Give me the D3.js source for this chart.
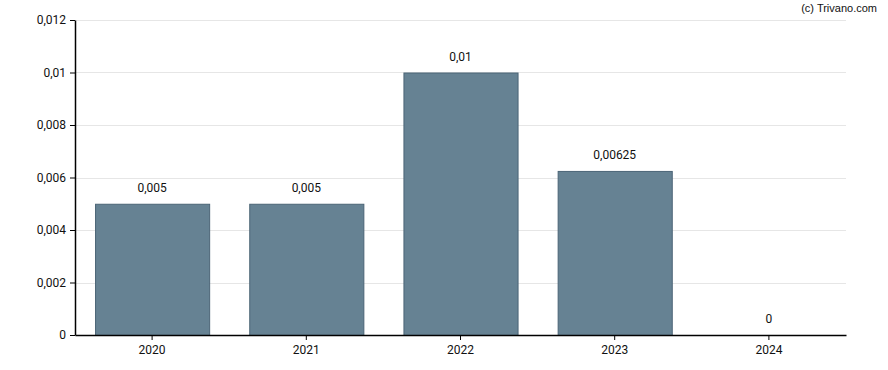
<!DOCTYPE html>
<html>
<head>
<meta charset="utf-8">
<script src="https://cdn.jsdelivr.net/npm/d3@7"></script>
<style>
  body { margin: 0; background: #fff; }
  text { font-family: Roboto, "Liberation Sans", Arial, sans-serif; }
</style>
</head>
<body>
<div id="chart-area"></div>
<script>
// data
var years = ["2020", "2021", "2022", "2023", "2024"];
var dividends = [0.005, 0.005, 0.01, 0.00625, 0];
var labels = ["0,005", "0,005", "0,01", "0,00625", "0"];
var yTicks = [0, 0.002, 0.004, 0.006, 0.008, 0.01, 0.012];

var margins = { left: 75, right: 42, top: 20, bottom: 35 };
var width = 888 - margins.left - margins.right;
var height = 370 - margins.top - margins.bottom;

var svg = d3.select("#chart-area")
    .append("svg")
    .attr("width", 888)
    .attr("height", 370);

var g = svg.append("g")
    .attr("transform", "translate(" + margins.left + ", " + margins.top + ")");

var x = d3.scaleBand()
    .domain(years)
    .range([0, width])
    .paddingInner(0.26)
    .paddingOuter(0.13);

var y = d3.scaleLinear()
    .domain([0, 0.012])
    .range([height, 0]);

var fmt = function(d){ return String(d).replace(".", ","); };

// grid lines
g.selectAll(".grid")
    .data(yTicks.filter(function(d){ return d > 0; }))
    .enter()
    .append("line")
    .attr("class", "grid")
    .attr("x1", 0)
    .attr("x2", width)
    .attr("y1", function(d){ return Math.round(y(d)) + 0.5; })
    .attr("y2", function(d){ return Math.round(y(d)) + 0.5; })
    .attr("stroke", "#e6e6e6")
    .attr("stroke-width", 1);

// bars
var data = years.map(function(yr, i){ return { year: yr, value: dividends[i], label: labels[i] }; });

g.selectAll("rect")
    .data(data)
    .enter()
    .append("rect")
    .attr("x", function(d){ return x(d.year) + 0.5; })
    .attr("y", function(d){ return y(d.value) + 0.5; })
    .attr("width", x.bandwidth())
    .attr("height", function(d){ return Math.max(0, height - y(d.value)); })
    .attr("fill", "#668293")
    .attr("stroke", "#4b6476")
    .attr("stroke-width", 1)
    .style("display", function(d){ return d.value > 0 ? null : "none"; });

// value labels
g.selectAll(".val")
    .data(data)
    .enter()
    .append("text")
    .attr("class", "val")
    .attr("x", function(d){ return x(d.year) + x.bandwidth() / 2; })
    .attr("y", function(d){ return y(d.value) - 12; })
    .attr("text-anchor", "middle")
    .attr("font-size", "12px")
    .attr("fill", "#111")
    .text(function(d){ return d.label; });

// axes
var xAxisCall = d3.axisBottom(x).tickSize(5).tickSizeOuter(0);
var yAxisCall = d3.axisLeft(y).tickValues(yTicks).tickFormat(fmt).tickSize(5).tickSizeOuter(0);

var xa = g.append("g")
    .attr("class", "x axis")
    .attr("transform", "translate(0, " + height + ")")
    .call(xAxisCall);
xa.selectAll("text").attr("font-size", "12px").attr("fill", "#111").attr("dy", "0.9em");
xa.select(".domain").attr("stroke", "#000").attr("stroke-width", 1.5);

var ya = g.append("g")
    .attr("class", "y axis")
    .call(yAxisCall);
ya.selectAll("text").attr("font-size", "12px").attr("fill", "#111").attr("x", -9);
ya.select(".domain").attr("stroke", "#000").attr("stroke-width", 1.5);

// copyright
svg.append("text")
    .attr("x", 877)
    .attr("y", 12)
    .attr("text-anchor", "end")
    .attr("font-size", "11px")
    .style("font-family", "'Liberation Sans', Arial, sans-serif")
    .attr("fill", "#111")
    .text("(c) Trivano.com");
</script>
</body>
</html>
